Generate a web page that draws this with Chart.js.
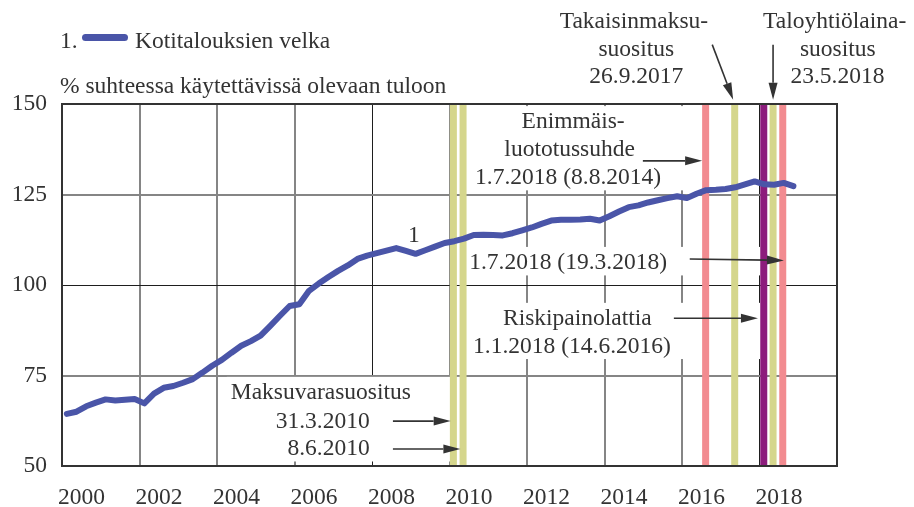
<!DOCTYPE html>
<html><head><meta charset="utf-8">
<script src="https://cdn.jsdelivr.net/npm/chart.js@4.4.1/dist/chart.umd.min.js"></script>
<style>html,body{margin:0;padding:0;background:#fff}#wrap{width:914px;height:507px;position:relative}</style>
</head><body><div id="wrap"><canvas id="c" width="914" height="507"></canvas></div>
<script>
// ---------- data ----------
const seriesName = 'Kotitalouksien velka';
const seriesNumber = '1.';
const unitTitle = '% suhteessa käytettävissä olevaan tuloon';
const firstYear = 2000;
// quarterly household debt ratio, 2000Q1 ... 2018Q4
const debtRatio = [
  64.4, 65.0, 66.5, 67.5,   68.4, 68.1, 68.3, 68.5,
  67.3, 70.0, 71.6, 72.1,   73.0, 74.0, 75.8, 77.7,
  79.3, 81.3, 83.2, 84.5,   86.0, 88.7, 91.5, 94.2,
  94.7, 98.4, 100.4, 102.2, 103.9, 105.4, 107.2, 108.1,
  108.8, 109.5, 110.2, 109.4, 108.6, 109.6, 110.6, 111.6,
  112.1, 112.8, 113.8, 113.9, 113.8, 113.7, 114.3, 115.1,
  115.9, 116.9, 117.8, 118.0, 118.0, 118.1, 118.3, 117.8,
  119.0, 120.3, 121.5, 122.0, 122.8, 123.4, 124.0, 124.5,
  124.0, 125.2, 126.2, 126.3, 126.5, 127.0, 127.8, 128.6,
  127.8, 127.7, 128.2, 127.3
];
const quarterPos = debtRatio.map((_, i) => firstYear + Math.floor(i / 4) + (i % 4) * 0.25 + 0.125);
const yearLabels = [2000, 2002, 2004, 2006, 2008, 2010, 2012, 2014, 2016, 2018];
const gridYears = [2002, 2004, 2006, 2008, 2010, 2012, 2014, 2016, 2018];
const yTicks = [50, 75, 100, 125, 150];
const xRange = [2000, 2020];
const yRange = [50, 150];

// macroprudential measure markers (date on time axis, kind)
const bandDates = [2010.10, 2010.35, 2016.61, 2017.36, 2018.11, 2018.35, 2018.60];
const bandKinds = ['loan', 'loan', 'ltv', 'loan', 'risk', 'loan', 'ltv'];

// annotations: [text, x (year), y (value), align, group]
const annotTexts = [
  ['1', 2009.08, 113.6, 'center', 'g0'],
  ['Maksuvarasuositus', 2006.68, 70.2, 'center', 'g1'],
  ['31.3.2010', 2007.94, 62.3, 'right', 'g1'],
  ['8.6.2010', 2007.94, 54.7, 'right', 'g1'],
  ['Enimmäis-', 2013.19, 145.0, 'center', 'g2'],
  ['luototussuhde', 2013.10, 137.4, 'center', 'g2'],
  ['1.7.2018 (8.8.2014)', 2013.06, 129.6, 'center', 'g2'],
  ['1.7.2018 (19.3.2018)', 2013.06, 106.1, 'center', 'g3'],
  ['Riskipainolattia', 2013.30, 90.65, 'center', 'g4'],
  ['1.1.2018 (14.6.2016)', 2013.16, 83.0, 'center', 'g4'],
  ['Takaisinmaksu-', 2014.76, 172.7, 'center', 'g5'],
  ['suositus', 2014.82, 165.0, 'center', 'g5'],
  ['26.9.2017', 2014.82, 157.5, 'center', 'g5'],
  ['Taloyhtiölaina-', 2019.94, 172.8, 'center', 'g6'],
  ['suositus', 2020.02, 165.0, 'center', 'g6'],
  ['23.5.2018', 2020.01, 157.6, 'center', 'g6']
];
// arrows: [x0, y0, x1, y1, group]
const annotArrows = [
  [2008.54, 62.4, 2010.03, 62.4, 'g1'],
  [2008.54, 54.7, 2010.28, 54.7, 'g1'],
  [2014.99, 134.3, 2016.52, 134.3, 'g2'],
  [2016.20, 107.2, 2018.63, 106.8, 'g3'],
  [2015.79, 90.8, 2017.96, 90.8, 'g4'],
  [2016.78, 166.4, 2017.32, 151.2, 'g5'],
  [2018.35, 166.4, 2018.35, 151.2, 'g6']
];
const boxedGroups = ['g1', 'g2', 'g3', 'g4'];

// ---------- style ----------
const FONT = '"Liberation Serif", "DejaVu Serif", serif';
const FS = 23.5;
const TXT = '#333333';
const LINE_COLOR = '#4a55a8';
const bandColors = { loan: '#d5d68c', ltv: '#f28b90', risk: '#8c1c7c' };
const BAND_W = 7;
const crispGrid = new Set([2008, 2018, 100]);

function drawArrow(ctx, x0, y0, x1, y1) {
  const ang = Math.atan2(y1 - y0, x1 - x0);
  const hl = 17, hw = 4.5;
  const bx = x1 - hl * Math.cos(ang), by = y1 - hl * Math.sin(ang);
  ctx.strokeStyle = TXT; ctx.fillStyle = TXT; ctx.lineWidth = 1.6;
  ctx.beginPath(); ctx.moveTo(x0, y0); ctx.lineTo(bx, by); ctx.stroke();
  ctx.beginPath();
  ctx.moveTo(x1, y1);
  ctx.lineTo(bx + hw * Math.sin(ang), by - hw * Math.cos(ang));
  ctx.lineTo(bx - hw * Math.sin(ang), by + hw * Math.cos(ang));
  ctx.closePath(); ctx.fill();
}

const decor = {
  id: 'decor',
  beforeDatasetsDraw(chart) {
    const { ctx, chartArea: a, scales: { x, y } } = chart;
    ctx.save();
    ctx.font = FS + 'px ' + FONT;
    ctx.save();
    ctx.beginPath(); ctx.rect(a.left + 1, a.top + 1, a.right - a.left - 2, a.bottom - a.top - 2); ctx.clip();
    boxedGroups.forEach(g => {
      let l = Infinity, r = -Infinity, t = Infinity, b = -Infinity;
      annotTexts.filter(d => d[4] === g).forEach(([s, xv, yv, al]) => {
        const w = ctx.measureText(s).width;
        const px = x.getPixelForValue(xv), py = y.getPixelForValue(yv);
        const x0 = al === 'center' ? px - w / 2 : (al === 'right' ? px - w : px);
        l = Math.min(l, x0 - 4); r = Math.max(r, x0 + w + 4);
        t = Math.min(t, py - 16); b = Math.max(b, py + 12.5);
      });
      annotArrows.filter(d => d[4] === g).forEach(([x0, y0, x1, y1]) => {
        const p0 = x.getPixelForValue(x0), p1 = x.getPixelForValue(x1);
        l = Math.min(l, p0, p1); r = Math.max(r, p0 + 3, p1 + 3);
      });
      ctx.fillStyle = '#ffffff';
      ctx.fillRect(l, t, r - l, b - t);
    });
    ctx.restore();
    bandDates.forEach((d, i) => {
      const px = x.getPixelForValue(d);
      ctx.fillStyle = bandColors[bandKinds[i]];
      ctx.fillRect(px - BAND_W / 2, a.top, BAND_W, a.bottom - a.top);
    });
    ctx.fillStyle = TXT;
    ctx.textBaseline = 'middle';
    annotTexts.forEach(([s, xv, yv, al]) => {
      ctx.textAlign = al;
      ctx.fillText(s, x.getPixelForValue(xv), y.getPixelForValue(yv));
    });
    annotArrows.forEach(([x0, y0, x1, y1]) => {
      drawArrow(ctx, x.getPixelForValue(x0), y.getPixelForValue(y0), x.getPixelForValue(x1), y.getPixelForValue(y1));
    });
    ctx.restore();
  },
  afterDatasetsDraw(chart) {
    const { ctx, chartArea: a } = chart;
    ctx.save();
    ctx.strokeStyle = '#333333'; ctx.lineWidth = 2;
    ctx.strokeRect(a.left, a.top, a.right - a.left, a.bottom - a.top);
    ctx.font = FS + 'px ' + FONT;
    ctx.fillStyle = TXT; ctx.textBaseline = 'alphabetic'; ctx.textAlign = 'left';
    ctx.fillText(seriesNumber, a.left - 2, a.top - 56);
    ctx.strokeStyle = LINE_COLOR; ctx.lineWidth = 7; ctx.lineCap = 'round';
    ctx.beginPath(); ctx.moveTo(a.left + 23.5, a.top - 66.5); ctx.lineTo(a.left + 62.5, a.top - 66.5); ctx.stroke();
    ctx.fillText(seriesName, a.left + 73, a.top - 56);
    ctx.fillText(unitTitle, a.left - 2, a.top - 11);
    ctx.restore();
  }
};

new Chart(document.getElementById('c'), {
  type: 'line',
  data: {
    datasets: [{
      label: seriesName,
      data: debtRatio.map((v, i) => ({ x: quarterPos[i], y: v })),
      borderColor: LINE_COLOR,
      borderWidth: 6,
      pointRadius: 0,
      tension: 0,
      borderJoinStyle: 'round',
      borderCapStyle: 'round',
      fill: false
    }]
  },
  options: {
    responsive: false,
    animation: false,
    devicePixelRatio: 1,
    layout: { padding: { top: 104, right: 77, left: 0, bottom: 0 } },
    plugins: { legend: { display: false }, tooltip: { enabled: false } },
    scales: {
      x: {
        type: 'linear', position: 'bottom', min: xRange[0], max: xRange[1],
        afterBuildTicks: s => { s.ticks = gridYears.map(v => ({ value: v })); },
        ticks: { display: false },
        grid: {
          drawTicks: false,
          color: c => crispGrid.has(c.tick && c.tick.value) ? '#1e1e1e' : '#858585',
          lineWidth: c => crispGrid.has(c.tick && c.tick.value) ? 1 : 2
        },
        border: { display: false },
        afterFit: s => { s.height = 0; }
      },
      x2: {
        type: 'linear', position: 'bottom', min: xRange[0], max: xRange[1],
        afterBuildTicks: s => { s.ticks = yearLabels.map(v => ({ value: v + 0.5 })); },
        ticks: {
          autoSkip: false, maxRotation: 0, padding: 18, color: TXT,
          font: { family: FONT, size: FS },
          callback: (v, i) => String(yearLabels[i])
        },
        grid: { display: false, drawTicks: false },
        border: { display: false },
        afterFit: s => { s.height = 41; }
      },
      y: {
        type: 'linear', min: yRange[0], max: yRange[1],
        afterBuildTicks: s => { s.ticks = yTicks.map(v => ({ value: v })); },
        ticks: { padding: 15, color: TXT, font: { family: FONT, size: FS } },
        grid: {
          drawTicks: false,
          color: c => crispGrid.has(c.tick && c.tick.value) ? '#1e1e1e' : '#858585',
          lineWidth: c => crispGrid.has(c.tick && c.tick.value) ? 1 : 2
        },
        border: { display: false },
        afterFit: s => { s.width = 62; }
      }
    }
  },
  plugins: [decor]
});
</script></body></html>
